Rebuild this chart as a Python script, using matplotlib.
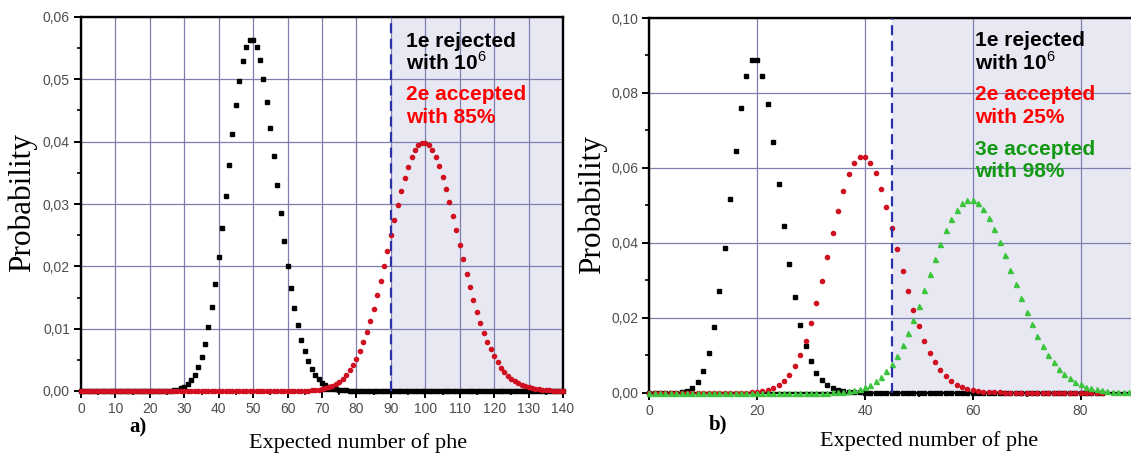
import matplotlib
matplotlib.use("Agg")
import matplotlib.pyplot as plt
from matplotlib.ticker import MultipleLocator, FixedLocator, FuncFormatter

# ---------------- data ----------------
# Panel a: k = 0..140
a_x_max = 140
a_black_start = 25
a_black_vals = [0.00004, 0.00007, 0.00013, 0.00024, 0.00041, 0.00068, 0.00109, 0.00171,
                0.00259, 0.00380, 0.00543, 0.00755, 0.01020, 0.01342, 0.01720, 0.02150,
                0.02622, 0.03122, 0.03630, 0.04125, 0.04583, 0.04981, 0.05299, 0.05520,
                0.05633, 0.05633, 0.05523, 0.05310, 0.05010, 0.04639, 0.04217, 0.03765,
                0.03303, 0.02848, 0.02413, 0.02011, 0.01648, 0.01329, 0.01055, 0.00824,
                0.00634, 0.00480, 0.00358, 0.00263, 0.00191, 0.00136, 0.00096, 0.00067,
                0.00046, 0.00031, 0.00021, 0.00014, 0.00009, 0.00006, 0.00004]
a_red_start = 65
a_red_vals = [0.00005, 0.00007, 0.00010, 0.00015, 0.00022, 0.00031, 0.00044, 0.00061,
              0.00083, 0.00112, 0.00150, 0.00197, 0.00256, 0.00329, 0.00416, 0.00520,
              0.00642, 0.00782, 0.00943, 0.01122, 0.01320, 0.01535, 0.01765, 0.02005,
              0.02253, 0.02504, 0.02751, 0.02991, 0.03216, 0.03421, 0.03601, 0.03751,
              0.03867, 0.03946, 0.03986, 0.03986, 0.03946, 0.03869, 0.03756, 0.03612,
              0.03440, 0.03245, 0.03033, 0.02808, 0.02576, 0.02342, 0.02110, 0.01884,
              0.01667, 0.01463, 0.01272, 0.01096, 0.00937, 0.00794, 0.00667, 0.00556,
              0.00460, 0.00377, 0.00306, 0.00247, 0.00198, 0.00157, 0.00124, 0.00097,
              0.00075, 0.00058, 0.00044, 0.00033, 0.00025, 0.00019, 0.00014, 0.00010,
              0.00007, 0.00005, 0.00004, 0.00003]
a_cut = 90

# Panel b
b_x_ticks = [0, 20, 40, 60, 80]
b_x_minor = [10, 30, 50, 70, 90]
b_x_max_12 = 84     # black / red drawn up to here
b_x_max_3 = 100     # green drawn up to here
b_black_start = 4
b_black_vals = [0.00001, 0.00005, 0.00018, 0.00052, 0.00131, 0.00291, 0.00582, 0.01058,
                0.01763, 0.02712, 0.03874, 0.05165, 0.06456, 0.07596, 0.08440, 0.08884,
                0.08884, 0.08461, 0.07692, 0.06689, 0.05574, 0.04459, 0.03430, 0.02541,
                0.01815, 0.01252, 0.00834, 0.00538, 0.00336, 0.00204, 0.00120, 0.00069,
                0.00038, 0.00021, 0.00011, 0.00006, 0.00003]
b_red_start = 17
b_red_vals = [0.00002, 0.00005, 0.00010, 0.00019, 0.00037, 0.00066, 0.00116, 0.00193,
              0.00309, 0.00475, 0.00703, 0.01004, 0.01385, 0.01847, 0.02384, 0.02980,
              0.03612, 0.04249, 0.04856, 0.05395, 0.05833, 0.06140, 0.06297, 0.06297,
              0.06143, 0.05851, 0.05443, 0.04948, 0.04398, 0.03825, 0.03255, 0.02712,
              0.02214, 0.01771, 0.01389, 0.01069, 0.00806, 0.00597, 0.00434, 0.00310,
              0.00218, 0.00150, 0.00102, 0.00068, 0.00045, 0.00029, 0.00018, 0.00011,
              0.00007, 0.00004]
b_green_start = 32
b_green_vals = [0.00003, 0.00005, 0.00009, 0.00015, 0.00024, 0.00039, 0.00062, 0.00096,
                0.00143, 0.00210, 0.00300, 0.00418, 0.00571, 0.00761, 0.00992, 0.01267,
                0.01584, 0.01939, 0.02327, 0.02738, 0.03159, 0.03576, 0.03973, 0.04335,
                0.04644, 0.04889, 0.05057, 0.05143, 0.05143, 0.05059, 0.04896, 0.04663,
                0.04371, 0.04035, 0.03668, 0.03285, 0.02898, 0.02520, 0.02160, 0.01825,
                0.01521, 0.01250, 0.01014, 0.00811, 0.00640, 0.00499, 0.00384, 0.00292,
                0.00219, 0.00162, 0.00119, 0.00086, 0.00061, 0.00043, 0.00030, 0.00021,
                0.00014, 0.00010, 0.00006, 0.00004, 0.00003]
b_cut = 45


def series(start, vals, xmax):
    xs = list(range(0, xmax + 1))
    ys = []
    for k in xs:
        i = k - start
        ys.append(vals[i] if 0 <= i < len(vals) else 0.0)
    return xs, ys


# ---------------- figure ----------------
plt.rcParams['mathtext.fontset'] = 'custom'
plt.rcParams['mathtext.rm'] = 'Liberation Sans'
plt.rcParams['mathtext.bf'] = 'Liberation Sans:bold'

W, H = 1131, 453
fig = plt.figure(figsize=(W / 100, H / 100), dpi=100)
fig.patch.set_facecolor('white')

ax1 = fig.add_axes([81 / W, 1 - 391 / H, 482 / W, 374 / H])
ax2 = fig.add_axes([649.3 / W, 1 - 392.7 / H, 539 / W, 374.7 / H])

GRID = '#7f7fae'
SHADE = '#e8e8f3'
DASH = '#2a30a8'
TICKC = '#4d4d4d'
comma = FuncFormatter(lambda v, p: ('%.2f' % v).replace('.', ','))


def style(ax, ymaj, ymin, ymax, xmax):
    ax.set_xlim(0, xmax)
    ax.set_ylim(0, ymax)
    ax.yaxis.set_major_locator(MultipleLocator(ymaj))
    ax.yaxis.set_minor_locator(MultipleLocator(ymin))
    ax.yaxis.set_major_formatter(comma)
    ax.set_axisbelow(True)
    ax.grid(True, which='major', color=GRID, lw=0.9, zorder=0.5)
    for s in ax.spines.values():
        s.set_linewidth(1.7)
        s.set_color('black')
    ax.tick_params(which='major', direction='out', length=5, width=1.4,
                   labelsize=10, labelcolor=TICKC, color='black', pad=3)
    ax.tick_params(which='minor', direction='out', length=3, width=1.2, color='black')


# ---- panel a ----
ax1.xaxis.set_major_locator(MultipleLocator(10))
ax1.xaxis.set_minor_locator(MultipleLocator(5))
style(ax1, 0.01, 0.005, 0.06, a_x_max)
ax1.axvspan(a_cut, a_x_max, color=SHADE, zorder=0.1, lw=0)
xb, yb = series(a_black_start, a_black_vals, a_x_max)
xr, yr = series(a_red_start, a_red_vals, a_x_max)
ax1.plot(xb, yb, ls='none', marker='s', ms=3.4, color='black', mec='black', zorder=3, clip_on=False)
ax1.plot(xr, yr, ls='none', marker='o', ms=3.0, color='#d01020', mec='#d01020', zorder=4, clip_on=False)
ax1.axvline(a_cut, color=DASH, lw=1.6, dashes=(4.5, 2.5), zorder=5)

# ---- panel b ----
ax2.xaxis.set_major_locator(FixedLocator(b_x_ticks))
ax2.xaxis.set_minor_locator(FixedLocator(b_x_minor))
style(ax2, 0.02, 0.01, 0.10, 100)
ax2.spines['right'].set_visible(False)
ax2.axvspan(b_cut, 100, color=SHADE, zorder=0.1, lw=0)
xb2, yb2 = series(b_black_start, b_black_vals, b_x_max_12)
xr2, yr2 = series(b_red_start, b_red_vals, b_x_max_12)
xg2, yg2 = series(b_green_start, b_green_vals, b_x_max_3)
ax2.plot(xb2, yb2, ls='none', marker='s', ms=3.0, color='black', mec='black', zorder=3, clip_on=False)
ax2.plot(xr2, yr2, ls='none', marker='o', ms=3.0, color='#d01020', mec='#d01020', zorder=4, clip_on=False)
ax2.plot(xg2, yg2, ls='none', marker='^', ms=3.6, color='#3cc43c', mec='#3cc43c', zorder=5, clip_on=False)
ax2.axvline(b_cut, color=DASH, lw=1.6, dashes=(4.5, 2.5), zorder=6)

for ax in (ax1, ax2):
    for lab in ax.get_xticklabels() + ax.get_yticklabels():
        lab.set_fontfamily('Liberation Sans')


def fx(px):
    return px / W


def fy(py):
    return 1 - py / H


serif = 'Liberation Serif'
sans = 'Liberation Sans'

# axis labels
fig.text(fx(22), fy(203), 'Probability', rotation=90, ha='center', va='center',
         fontsize=22.5, family=serif)
fig.text(fx(592), fy(205), 'Probability', rotation=90, ha='center', va='center',
         fontsize=22.5, family=serif)
fig.text(fx(358), fy(448), 'Expected number of phe', ha='center', va='baseline',
         fontsize=16, family=serif)
fig.text(fx(929), fy(446), 'Expected number of phe', ha='center', va='baseline',
         fontsize=16, family=serif)
fig.text(fx(129), fy(432), 'a)', ha='left', va='baseline', fontsize=15,
         family=serif, fontweight='bold')
fig.text(fx(709), fy(429), 'b)', ha='left', va='baseline', fontsize=15,
         family=serif, fontweight='bold')

# annotations
def note(x, y, s, c):
    fig.text(fx(x), fy(y), s, ha='left', va='baseline', fontsize=15,
             family=sans, fontweight='bold', color=c)

note(406, 47, '1e rejected', 'black')
note(406, 70, r'with 10$^{6}$', 'black')
note(406, 100, '2e accepted', '#ff0000')
note(406, 123, 'with 85%', '#ff0000')

note(975, 46, '1e rejected', 'black')
note(975, 70, r'with 10$^{6}$', 'black')
note(975, 100, '2e accepted', '#ff0000')
note(975, 123, 'with 25%', '#ff0000')
note(975, 155, '3e accepted', '#119911')
note(975, 177, 'with 98%', '#119911')

fig.savefig('out.png', dpi=100)
